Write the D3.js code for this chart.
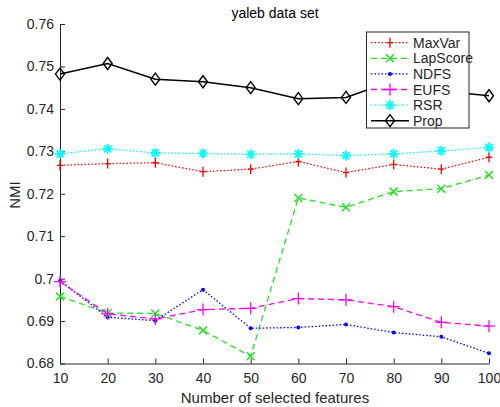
<!DOCTYPE html>
<html><head><meta charset="utf-8">
<script src="https://cdn.jsdelivr.net/npm/d3@7"></script>
<style>body{margin:0;background:#fff}svg{display:block}text{font-family:Arial,"Liberation Sans",Helvetica,sans-serif}</style>
</head><body><svg id="c" width="500" height="407"></svg>
<script>
const features = [10,20,30,40,50,60,70,80,90,100];
const maxVar   = [0.7267,0.7271,0.7273,0.7252,0.7258,0.7276,0.7250,0.7269,0.7258,0.7286];
const lapScore = [0.6958,0.6919,0.6918,0.6878,0.6817,0.7190,0.7168,0.7205,0.7212,0.7244];
const ndfs     = [0.6995,0.6909,0.6901,0.6974,0.6883,0.6885,0.6892,0.6873,0.6863,0.6824];
const eufs     = [0.6993,0.6917,0.6905,0.6927,0.6930,0.6953,0.6950,0.6934,0.6897,0.6888];
const rsr      = [0.7294,0.7306,0.7296,0.7295,0.7293,0.7294,0.7290,0.7294,0.7301,0.7309];
const prop     = [0.7482,0.7507,0.7470,0.7464,0.7450,0.7424,0.7427,0.7467,0.7442,0.7431];
const yTicks   = [0.68,0.69,0.70,0.71,0.72,0.73,0.74,0.75,0.76];
const yTickLabels = ["0.68","0.69","0.7","0.71","0.72","0.73","0.74","0.75","0.76"];
const seriesNames = ["MaxVar","LapScore","NDFS","EUFS","RSR","Prop"];

const series = [
  {name:seriesNames[0], vals:maxVar,   color:"#ff0000", dash:"1.5,2", marker:"plus",    msize:5, hs:3},
  {name:seriesNames[1], vals:lapScore, color:"#22e022", dash:"6,4",   marker:"cross",   msize:4},
  {name:seriesNames[2], vals:ndfs,     color:"#0000ff", dash:"1.5,2", marker:"dot",     msize:2},
  {name:seriesNames[3], vals:eufs,     color:"#ff00ff", dash:"6,4",   marker:"plus",    msize:6, hs:6},
  {name:seriesNames[4], vals:rsr,      color:"#00ffff", dash:"1.5,2", marker:"star",    msize:5},
  {name:seriesNames[5], vals:prop,     color:"#000000", dash:null,    marker:"diamond", msize:6}
];

const svg = d3.select("#c");
const L=60, R=489, T=24, B=363.5;
const x = d3.scaleLinear().domain([10,100]).range([L,R]);
const y = d3.scaleLinear().domain([0.68,0.76]).range([B,T]);
const axisColor="#262626";

const xa = svg.append("g").attr("transform",`translate(0,${B})`)
  .call(d3.axisBottom(x).tickValues(features).tickSizeInner(-5).tickSizeOuter(0).tickPadding(10));
const ya = svg.append("g").attr("transform",`translate(${L},0)`)
  .call(d3.axisLeft(y).tickValues(yTicks).tickFormat((d,i)=>yTickLabels[i]).tickSizeInner(-5).tickSizeOuter(0).tickPadding(6));
[xa,ya].forEach(g=>{
  g.selectAll("path,line").attr("stroke",axisColor).attr("stroke-width",1);
  g.selectAll("text").attr("fill",axisColor).style("font-size","14px");
});

svg.append("text").attr("x",275).attr("y",18).attr("text-anchor","middle").style("font-size","14px").attr("fill","#000").text("yaleb data set");
svg.append("text").attr("x",275).attr("y",403).attr("text-anchor","middle").style("font-size","15px").attr("fill",axisColor).text("Number of selected features");
svg.append("text").attr("transform","translate(20,195) rotate(-90)").attr("text-anchor","middle").style("font-size","15px").attr("fill",axisColor).text("NMI");

function drawMarker(g, s, cx, cy){
  const type=s.marker, sz=s.msize, color=s.color;
  if(type==="plus"){
    const hs=s.hs||sz;
    g.append("path").attr("d",`M${cx-hs},${cy}H${cx+hs}M${cx},${cy-sz}V${cy+sz}`).attr("stroke",color).attr("stroke-width",1.3).attr("fill","none");
  } else if(type==="cross"){
    g.append("path").attr("d",`M${cx-sz},${cy-sz}L${cx+sz},${cy+sz}M${cx-sz},${cy+sz}L${cx+sz},${cy-sz}`).attr("stroke",color).attr("stroke-width",1.5).attr("fill","none");
  } else if(type==="dot"){
    g.append("circle").attr("cx",cx).attr("cy",cy).attr("r",sz).attr("fill",color);
  } else if(type==="star"){
    const d=sz*0.7;
    g.append("path").attr("d",`M${cx-sz},${cy}H${cx+sz}M${cx},${cy-sz}V${cy+sz}M${cx-d},${cy-d}L${cx+d},${cy+d}M${cx-d},${cy+d}L${cx+d},${cy-d}`).attr("stroke",color).attr("stroke-width",1.8).attr("fill","none");
  } else if(type==="diamond"){
    g.append("path").attr("d",`M${cx},${cy-sz}L${cx+sz*0.75},${cy}L${cx},${cy+sz}L${cx-sz*0.75},${cy}Z`).attr("stroke",color).attr("stroke-width",1.4).attr("fill","none");
  }
}

const line = d3.line().x((d,i)=>x(features[i])).y(d=>y(d));
const plot = svg.append("g");
series.forEach(s=>{
  const g = plot.append("g");
  g.append("path").datum(s.vals).attr("d",line).attr("fill","none").attr("stroke",s.color)
    .attr("stroke-width", s.dash? 1.3:1.5).attr("stroke-dasharray",s.dash);
  s.vals.forEach((v,i)=>drawMarker(g,s,x(features[i]),y(v)));
});

const lg = svg.append("g");
lg.append("rect").attr("x",366.5).attr("y",32).attr("width",102.5).attr("height",96).attr("fill","#fff").attr("stroke",axisColor).attr("stroke-width",1);
series.forEach((s,i)=>{
  const ly = 42.7 + i*15.6;
  lg.append("line").attr("x1",371).attr("x2",409).attr("y1",ly).attr("y2",ly).attr("stroke",s.color)
    .attr("stroke-width",s.dash?1.3:1.5).attr("stroke-dasharray",s.dash);
  drawMarker(lg,s,390,ly);
  lg.append("text").attr("x",413).attr("y",ly+5).style("font-size","14px").attr("fill",axisColor).text(s.name);
});
</script></body></html>
